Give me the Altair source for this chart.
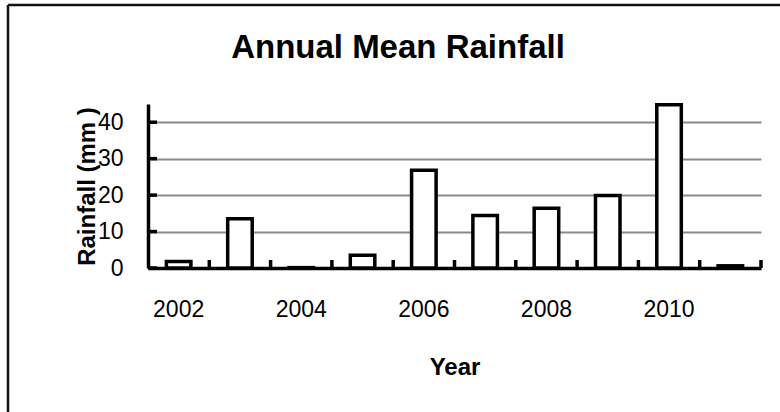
import altair as alt
import pandas as pd

# Annual mean rainfall by year (mm)
years = [2002, 2003, 2004, 2005, 2006, 2007, 2008, 2009, 2010, 2011]
rainfall = [1.8, 13.5, 0.1, 3.5, 26.8, 14.4, 16.4, 19.9, 44.8, 0.6]
y_tick_values = [0, 10, 20, 30, 40]
x_label_years = [2002, 2004, 2006, 2008, 2010]
chart_title = "Annual Mean Rainfall"

FONT = "Liberation Sans"
W, H = 613, 164
PAD_L, PAD_T = 148, 104
PAD_R, PAD_B = 780 - PAD_L - W, 412 - PAD_T - H

bars_df = pd.DataFrame({"year": years, "rain": rainfall})
yticks_df = pd.DataFrame({"rain": y_tick_values})
title_df = pd.DataFrame({"t": [chart_title]})
frame_df = pd.DataFrame({"k": [0]})

x_scale = alt.Scale(paddingInner=0, paddingOuter=0)
y_scale = alt.Scale(domain=[0, 45], nice=False)

x_axis = alt.Axis(
    values=x_label_years, ticks=False, grid=False, domain=True,
    domainColor="black", domainWidth=3.5, labelAngle=0,
    labelFont=FONT, labelFontSize=23, labelColor="black", labelPadding=30,
    title="Year", titleFont=FONT, titleFontSize=24, titleFontWeight="bold",
    titleColor="black", titleBaseline="alphabetic", titleY=106,
)
y_axis = alt.Axis(
    values=y_tick_values, ticks=False, grid=True, gridColor="#8a8a8a",
    gridWidth=2, domain=True, domainColor="black", domainWidth=3.5,
    labelFont=FONT, labelFontSize=23, labelColor="black", labelPadding=25,
    title="Rainfall (mm )", titleFont=FONT, titleFontSize=24,
    titleFontWeight="bold", titleColor="black", titleBaseline="alphabetic",
    titleX=-54,
)

x_enc = alt.X("year:O", scale=x_scale, axis=x_axis)
y_enc = alt.Y("rain:Q", scale=y_scale, axis=y_axis)

# Bars: white fill with a heavy black outline
bars = alt.Chart(bars_df).mark_bar(
    width=alt.RelativeBandSize(0.4), fill="white", stroke="black", strokeWidth=3.5
).encode(x=x_enc, y=y_enc)

# Inward tick marks at category boundaries along the x axis
xticks = alt.Chart(bars_df).mark_rule(color="black", strokeWidth=3.5).encode(
    x=alt.X("year:O", bandPosition=1, scale=x_scale, axis=x_axis),
    y=alt.value(H),
    y2=alt.value(H - 8),
)

# Inward tick marks on the y axis
yticks = alt.Chart(yticks_df).mark_rule(color="black", strokeWidth=3.5).encode(
    y=y_enc,
    x=alt.value(0),
    x2=alt.value(9),
)

title_text = alt.Chart(title_df).mark_text(
    font=FONT, fontSize=33, fontWeight="bold", color="black",
    align="center", baseline="alphabetic",
).encode(text="t:N", x=alt.value(250), y=alt.value(-46))

# Outer chart frame (top and left edges)
frame_top = alt.Chart(frame_df).mark_rule(color="#111", strokeWidth=2.5).encode(
    x=alt.value(8 - PAD_L), x2=alt.value(W + PAD_R), y=alt.value(5 - PAD_T)
)
frame_left = alt.Chart(frame_df).mark_rule(color="#111", strokeWidth=2.5).encode(
    x=alt.value(8 - PAD_L), y=alt.value(5 - PAD_T), y2=alt.value(H + PAD_B)
)

chart = alt.layer(
    bars, xticks, yticks, title_text, frame_top, frame_left
).properties(
    width=W, height=H,
    autosize=alt.AutoSizeParams(type="none"),
    padding={"left": PAD_L, "top": PAD_T, "right": PAD_R, "bottom": PAD_B},
    background="white",
).configure_view(stroke=None)

chart.save("out.html", embed_options={"renderer": "svg", "actions": False})
